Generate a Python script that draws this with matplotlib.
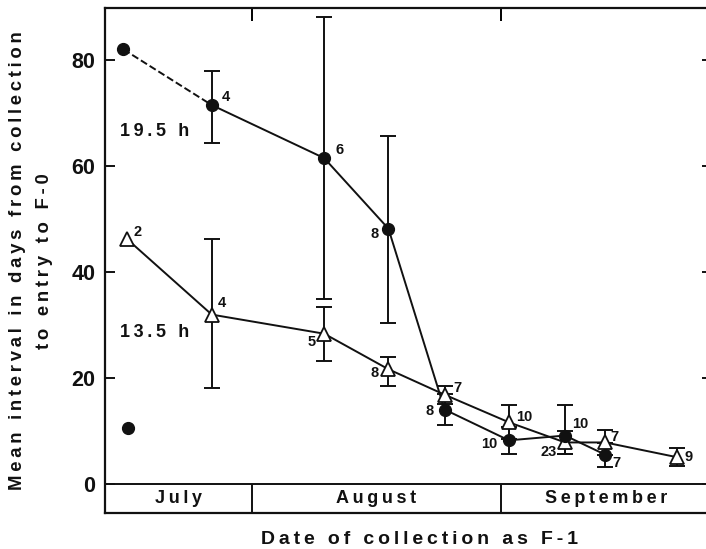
import matplotlib
matplotlib.use("Agg")
import matplotlib.pyplot as plt
import numpy as np

# days counted from 1 July (Aug starts at 31, Sep at 62)
month_names = ["July", "August", "September"]
month_edges = [31, 62]

# 19.5 h photoperiod (filled circles)
long_days = [15, 26, 40, 48, 55, 63, 70, 75]
long_mean = [82.0, 71.5, 61.5, 48.2, 14.1, 8.3, 9.2, 5.6]
long_hi = [82.0, 78.0, 88.1, 65.7, 17.1, 10.8, 14.9, 7.8]
long_lo = [82.0, 64.4, 35.0, 30.5, 11.1, 5.8, 5.8, 3.2]
long_n = ["", "4", "6", "8", "8", "10", "10", "7"]

# 13.5 h photoperiod (open triangles)
short_days = [15.4, 26, 40, 48, 55, 63, 70, 75, 84]
short_mean = [46.3, 32.0, 28.4, 21.7, 16.9, 11.7, 7.9, 7.9, 5.1]
short_hi = [46.3, 46.3, 33.5, 24.1, 18.6, 14.9, 10.0, 10.2, 6.8]
short_lo = [46.3, 18.1, 23.2, 18.6, 15.2, 8.5, 5.8, 5.6, 3.4]
short_n = ["2", "4", "5", "8", "7", "10", "23", "7", "9"]

# lone point near the start
extra_day = [15.6]
extra_val = [10.7]

# label offsets in points (dx, dy, ha)
long_off = [(0, 0, "left"), (7, 6, "left"), (8, 6, "left"), (-7, -4, "right"),
            (-8, -1, "right"), (-8, -3, "right"), (5, 8, "left"), (5, -6, "left")]
short_off = [(5, 5, "left"), (4, 8, "left"), (-6, -6, "right"), (-7, -3, "right"),
             (6, 5, "left"), (5, 4, "left"), (-6, -7, "right"), (4, 4, "left"),
             (5, 0, "left")]


def track(s):
    # wide letter spacing like the typeset original
    return "\u2009".join(s)


plt.rcParams['font.family'] = ['Liberation Sans', 'DejaVu Sans']
plt.rcParams['font.weight'] = 'bold'

fig = plt.figure(figsize=(7.06, 5.49), dpi=100)
ax = fig.add_axes([105 / 706, 36 / 549, 607 / 706, 505 / 549])

ax.set_xlim(12.7, 88.3)
ax.set_ylim(-5.4, 89.8)

lw = 1.4
black = "#111111"

# error bars
ax.errorbar(long_days[1:], long_mean[1:],
            yerr=[np.array(long_mean[1:]) - np.array(long_lo[1:]),
                  np.array(long_hi[1:]) - np.array(long_mean[1:])],
            fmt="none", ecolor=black, elinewidth=lw, capsize=6, capthick=lw, zorder=2)
ax.errorbar(short_days[1:], short_mean[1:],
            yerr=[np.array(short_mean[1:]) - np.array(short_lo[1:]),
                  np.array(short_hi[1:]) - np.array(short_mean[1:])],
            fmt="none", ecolor=black, elinewidth=lw, capsize=6, capthick=lw, zorder=2)

# lines
ax.plot(long_days[:2], long_mean[:2], linestyle="--", color=black, lw=lw, zorder=3)
ax.plot(long_days[1:], long_mean[1:], linestyle="-", color=black, lw=lw, zorder=3)
ax.plot(short_days, short_mean, linestyle="-", color=black, lw=lw, zorder=3)

# markers
ax.plot(long_days, long_mean, linestyle="none", marker="o", markersize=8.5,
        color=black, zorder=5)
ax.plot(short_days, short_mean, linestyle="none", marker="^", markersize=9.5,
        markerfacecolor="white", markeredgecolor=black, markeredgewidth=1.3, zorder=4)
ax.plot(extra_day, extra_val, linestyle="none", marker="o", markersize=8.5,
        color=black, zorder=5)

# sample sizes
for x, y, n, (dx, dy, ha) in zip(long_days, long_mean, long_n, long_off):
    if n:
        ax.annotate(n, (x, y), textcoords="offset points", xytext=(dx, dy),
                    ha=ha, va="center", fontsize=10.5, color=black)
for x, y, n, (dx, dy, ha) in zip(short_days, short_mean, short_n, short_off):
    ax.annotate(n, (x, y), textcoords="offset points", xytext=(dx, dy),
                ha=ha, va="center", fontsize=10.5, color=black)

ax.text(14.6, 66.5, track("19.5 h"), fontsize=13, va="center", ha="left", color=black)
ax.text(14.6, 28.6, track("13.5 h"), fontsize=13, va="center", ha="left", color=black)

# month band under the axis
ax.axhline(0, color=black, lw=lw)
ax.vlines(month_edges, -5.4, 0, color=black, lw=lw)
edges = [12.7] + month_edges + [88.3]
for i, name in enumerate(month_names):
    ax.text((edges[i] + edges[i + 1]) / 2, -2.7, track(name), ha="center",
            va="center", fontsize=13, color=black)

# ticks
ax.set_yticks([0, 20, 40, 60, 80])
ax.tick_params(axis="y", direction="in", length=7, width=lw, right=True,
               labelsize=15.5, pad=7, colors=black)
ax.set_xticks(month_edges)
ax.tick_params(axis="x", direction="in", length=9, width=lw, top=True,
               bottom=False, labelbottom=False)
for s in ax.spines.values():
    s.set_linewidth(1.6)
    s.set_color(black)

fig.text(31 / 706, 1 - 261 / 549,
         track("Mean interval in days from collection") + "\n" + track("to entry to F-0"),
         rotation=90, ha="center", va="center", fontsize=13.3, linespacing=1.75,
         color=black)
fig.text(420 / 706, 10 / 549, track("Date of collection as F-1"), ha="center",
         va="center", fontsize=14, color=black)

fig.savefig("out.png", dpi=100)
